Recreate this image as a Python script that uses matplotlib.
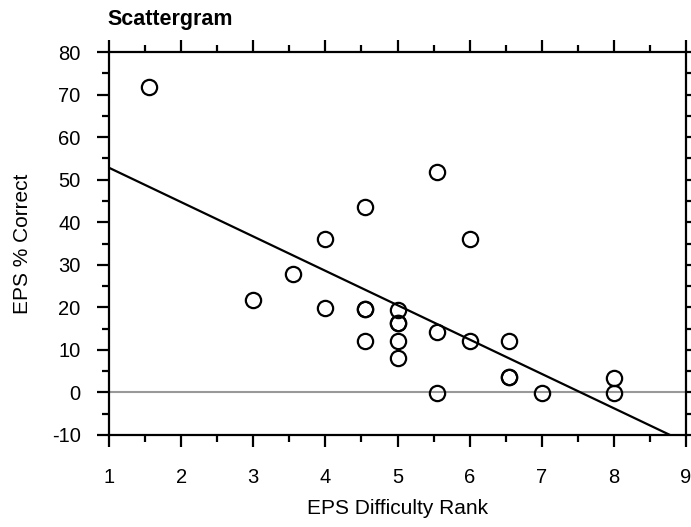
import matplotlib.pyplot as plt
from matplotlib.ticker import MultipleLocator

# EPS difficulty rank vs EPS % correct
rank = [1.55, 3.0, 3.55, 4.0, 4.0, 4.55, 4.55, 4.55, 4.55,
        5.0, 5.0, 5.0, 5.0, 5.0, 5.55, 5.55, 5.55,
        6.0, 6.0, 6.55, 6.55, 6.55, 7.0, 8.0, 8.0]
pct_correct = [71.7, 21.8, 27.9, 36.1, 19.8, 43.6, 19.6, 19.6, 12.0,
               19.4, 16.3, 16.3, 12.0, 8.1, 51.7, 14.2, -0.2,
               36.1, 12.0, 12.0, 3.6, 3.6, -0.1, 3.5, -0.1]

# regression line as drawn in the chart: value at rank 1 and where it crosses 0
fit_at_1 = 52.8
fit_zero = 7.54

X_LIM = (1, 9)
Y_LIM = (-10, 80)

plt.rcParams['font.family'] = ['Liberation Sans', 'DejaVu Sans']
plt.rcParams['axes.unicode_minus'] = False

fig = plt.figure(figsize=(6.91, 5.27), dpi=100)
ax = fig.add_axes([109 / 691, 1 - 435 / 527, 577 / 691, 383 / 527])

# reference line at zero
ax.axhline(0, color="#999999", lw=1.5, zorder=1)

# fit line
ax.axline((1, fit_at_1), (fit_zero, 0), color="black", lw=1.6, zorder=2)

ax.plot(rank, pct_correct, "o", ms=11, mfc="none", mec="black",
        mew=1.6, zorder=3, clip_on=False)

ax.set_xlim(*X_LIM)
ax.set_ylim(*Y_LIM)
ax.xaxis.set_major_locator(MultipleLocator(1))
ax.xaxis.set_minor_locator(MultipleLocator(0.5))
ax.yaxis.set_major_locator(MultipleLocator(10))
ax.yaxis.set_minor_locator(MultipleLocator(5))

for s in ax.spines.values():
    s.set_linewidth(1.6)
ax.tick_params(which="both", direction="out", top=True, right=True,
               width=1.6, labelsize=14.5)
ax.tick_params(which="major", length=8.5)
ax.tick_params(which="minor", length=5)
ax.tick_params(axis="x", which="major", pad=15)
ax.tick_params(axis="y", which="major", pad=12)

ax.set_xlabel("EPS Difficulty Rank", fontsize=15, va="top")
ax.xaxis.set_label_coords(0.5, -0.168)
ax.set_ylabel("EPS % Correct", fontsize=15)
ax.yaxis.set_label_coords(-0.133, 0.5)
fig.text(107 / 691, 0.982, "Scattergram", fontsize=15.5, fontweight="bold",
         ha="left", va="top")

fig.savefig("out.png", dpi=100)
